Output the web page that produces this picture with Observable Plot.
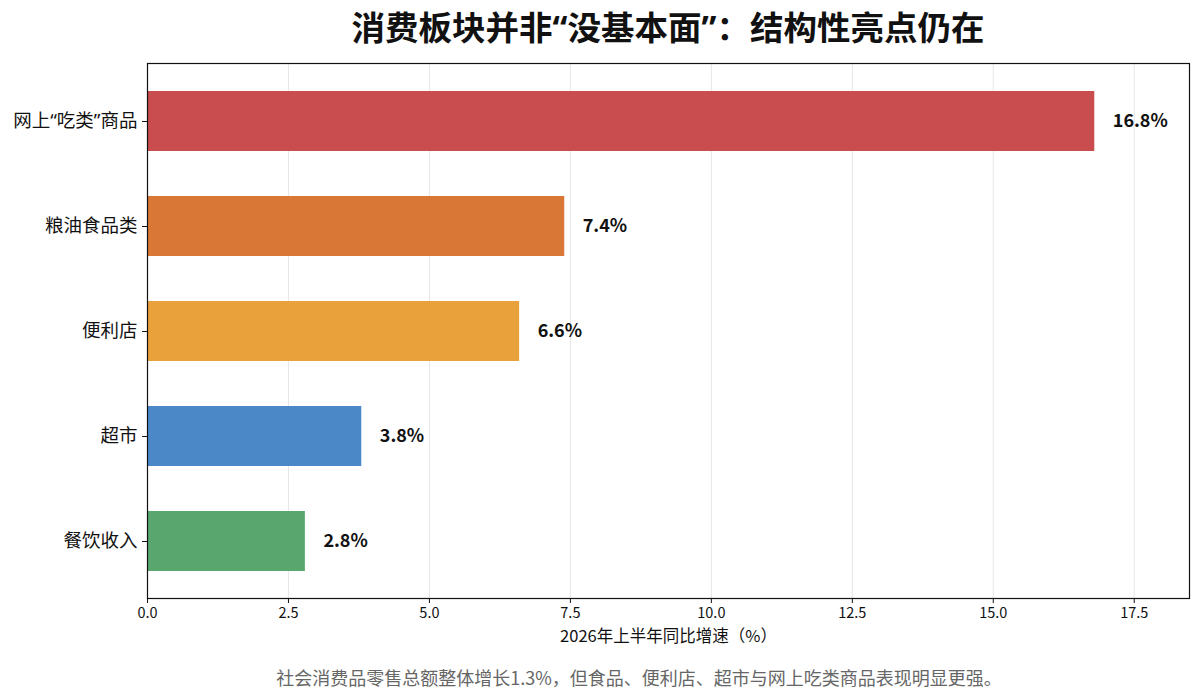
<!DOCTYPE html>
<html><head><meta charset="utf-8">
<script src="https://cdn.jsdelivr.net/npm/d3@7"></script>
<script src="https://cdn.jsdelivr.net/npm/@observablehq/plot@0.6"></script>
<style>
body{margin:0;background:#fff;font-family:"Noto Sans CJK SC","Noto Sans",sans-serif;}
#wrap{position:relative;width:1200px;height:699px;}
#title{position:absolute;left:147px;width:1042px;top:0;height:54px;line-height:54px;text-align:center;font-size:33.5px;font-weight:700;color:#111;font-family:"Noto Sans","Noto Sans CJK SC",sans-serif;}
#chart{position:absolute;left:0;top:50px;}
#caption{position:absolute;left:0;width:1278px;top:664px;height:26px;line-height:26px;text-align:center;font-size:18px;color:#666;}
</style></head>
<body><div id="wrap">
<div id="title">消费板块并非“没基本面”：结构性亮点仍在</div>
<div id="chart"></div>
<div id="caption">社会消费品零售总额整体增长1.3%，但食品、便利店、超市与网上吃类商品表现明显更强。</div>
</div>
<script>
const categories = ["网上“吃类”商品","粮油食品类","便利店","超市","餐饮收入"];
const values = [16.8, 7.4, 6.6, 3.8, 2.8];
const colors = ["#c94d4f","#d97736","#e9a23b","#4a88c8","#5aa66f"];
const xTicks = [0, 2.5, 5, 7.5, 10, 12.5, 15, 17.5];
const xLabel = "2026年上半年同比增速（%）";

const data = categories.map((c,i)=>({cat:c, v:values[i], color:colors[i]}));
const mt = 13, mb = 62, ml = 147, mr = 11, H = 610;
const cjk = '"Noto Sans CJK SC","Noto Sans",sans-serif';

const plot = Plot.plot({
  width: 1200, height: H,
  marginTop: mt, marginBottom: mb, marginLeft: ml, marginRight: mr,
  style: {fontFamily: cjk, background: "#fff", color: "#111"},
  x: {domain: [0, 18.48], ticks: xTicks, tickFormat: d3.format(".1f"), label: null},
  y: {domain: categories, paddingInner: 0.431, paddingOuter: 0.251, label: null},
  marks: [
    Plot.gridX(xTicks, {stroke: "#e6e6e6", strokeOpacity: 1, strokeWidth: 1}),
    Plot.barX(data, {y: "cat", x: "v", fill: "color"}),
    Plot.text(data, {y: "cat", x: "v", text: d => d.v.toFixed(1) + "%", dx: 18, textAnchor: "start", fontSize: 18, fontWeight: 700, fill: "#111"}),
    Plot.frame({stroke: "#111", strokeWidth: 1.2}),
    Plot.axisX({ticks: xTicks, tickFormat: d3.format(".1f"), tickSize: 5, fontSize: 14.5, tickPadding: 4, label: null}),
    Plot.axisY({tickSize: 5, fontSize: 18.5, tickPadding: 5, label: null, fontFamily: '"Noto Sans","Noto Sans CJK SC",sans-serif'}),
    Plot.text([xLabel], {frameAnchor: "bottom", lineAnchor: "middle", dy: 38, fontSize: 16.5, fill: "#111"})
  ]
});
document.getElementById("chart").appendChild(plot);
</script>
</body></html>
